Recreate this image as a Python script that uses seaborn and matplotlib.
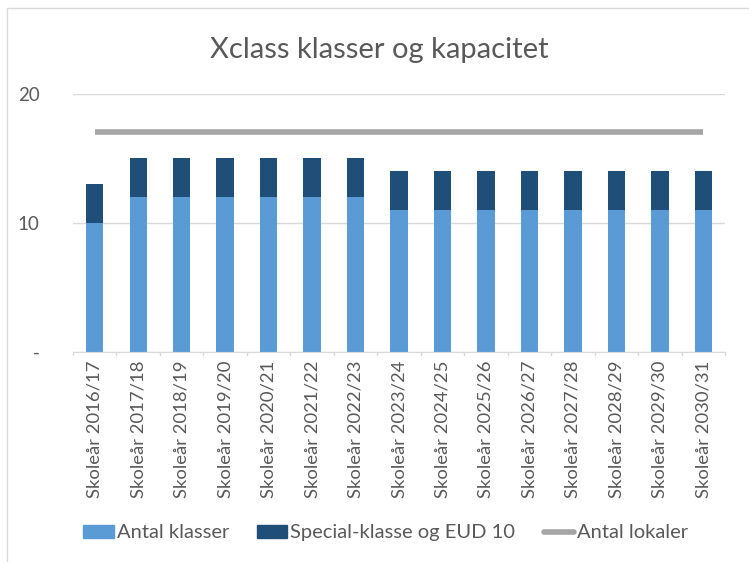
import matplotlib
matplotlib.use("Agg")
import matplotlib.pyplot as plt
import seaborn as sns
import pandas as pd
from matplotlib.patches import Patch, Rectangle
from matplotlib.lines import Line2D

years = ["2016/17", "2017/18", "2018/19", "2019/20", "2020/21", "2021/22", "2022/23",
         "2023/24", "2024/25", "2025/26", "2026/27", "2027/28", "2028/29", "2029/30", "2030/31"]
categories = ["Skoleår " + y for y in years]
antal_klasser = [10, 12, 12, 12, 12, 12, 12, 11, 11, 11, 11, 11, 11, 11, 11]
special_klasse = [3, 3, 3, 3, 3, 3, 3, 3, 3, 3, 3, 3, 3, 3, 3]
antal_lokaler = [17] * 15

light = "#5b9bd5"
dark = "#1f4e79"
gray_line = "#a5a5a5"
text_col = "#595959"

sns.set_style("white")
plt.rcParams['font.family'] = ['Lato', 'DejaVu Sans']

df = pd.DataFrame({"cat": categories, "a": antal_klasser,
                   "total": [a + b for a, b in zip(antal_klasser, special_klasse)],
                   "lok": antal_lokaler})

fig = plt.figure(figsize=(7.49, 5.62), dpi=100)
ax = fig.add_axes([0.0975, 0.3737, 0.8705, 0.4596])

sns.barplot(data=df, x="cat", y="total", color=dark, width=0.4, ax=ax, saturation=1, linewidth=0)
sns.barplot(data=df, x="cat", y="a", color=light, width=0.4, ax=ax, saturation=1, linewidth=0)
ax.plot(range(len(categories)), df["lok"], color=gray_line, linewidth=4, solid_capstyle="butt")

ax.set_ylim(0, 20)
ax.set_xlim(-0.5, len(categories) - 0.5)
ax.set_yticks([0, 10, 20])
ax.set_yticklabels(["-", "10", "20"])
ax.yaxis.grid(True, color="#d9d9d9", linewidth=1)
ax.set_axisbelow(True)
for s in ["left", "right", "top"]:
    ax.spines[s].set_visible(False)
ax.spines["bottom"].set_color("#d9d9d9")
ax.set_xlabel("")
ax.set_ylabel("")
ax.tick_params(axis="y", length=0, labelsize=13.5, colors=text_col, pad=24)
ax.tick_params(axis="x", length=0, labelsize=13.3, colors=text_col, pad=6)
plt.setp(ax.get_xticklabels(), rotation=90)
for i in range(len(categories) + 1):
    ax.plot([i - 0.5, i - 0.5], [0, -0.25], color="#d9d9d9", lw=1, clip_on=False)

fig.suptitle("Xclass klasser og kapacitet", x=0.507, y=0.935, fontsize=21, color=text_col)

handles = [Patch(color=light, label="Antal klasser"),
           Patch(color=dark, label="Special-klasse og EUD 10"),
           Line2D([0], [0], color=gray_line, lw=4, label="Antal lokaler")]
fig.legend(handles=handles, loc="center", bbox_to_anchor=(0.515, 0.052), ncol=3, frameon=False,
           fontsize=14.5, labelcolor=text_col, handlelength=1.5, handleheight=0.6,
           columnspacing=1.4, handletextpad=0.15)

fig.patches.append(Rectangle((7 / 749, -0.05), 1.2, 1 - 8 / 562 + 0.05, transform=fig.transFigure,
                             fill=False, edgecolor="#d9d9d9", lw=1))

fig.savefig("out.png", dpi=100)
